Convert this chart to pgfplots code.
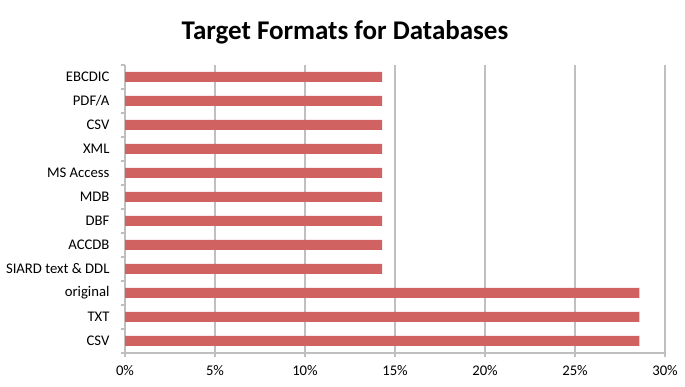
\documentclass[border=0pt]{standalone}
\usepackage{fontspec}
\setmainfont{Carlito}
\usepackage{pgfplots}
\pgfplotsset{compat=1.18}
\definecolor{barred}{RGB}{208,98,98}
\definecolor{gridgray}{RGB}{191,191,191}
\begin{document}
\begin{tikzpicture}
\path[use as bounding box] (0,0) rectangle (685pt,387pt);
\node[font=\fontsize{27}{30}\selectfont\bfseries] at (345pt,355pt) {Target Formats for Databases};
\begin{axis}[
  at={(125pt,34pt)}, anchor=south west,
  width=540pt, height=288pt, scale only axis,
  xbar, bar width=10pt,
  xmin=0, xmax=30, ymin=-0.5, ymax=11.5,
  xtick={0,5,...,30},
  xticklabels={0\%,5\%,10\%,15\%,20\%,25\%,30\%},
  ytick={0,...,11},
  yticklabels={CSV,TXT,original,SIARD text \& DDL,ACCDB,DBF,MDB,MS Access,XML,CSV,PDF/A,EBCDIC},
  minor ytick={-0.5,0.5,...,11.5},
  axis lines*=left,
  axis line style={gridgray, line width=1.6pt},
  xmajorgrids, major grid style={gridgray, line width=1.6pt},
  tick align=outside,
  x tick style={gridgray, line width=1.6pt},
  major tick length=4pt,
  y tick style={draw=none},
  minor y tick style={draw=gridgray, line width=1.6pt},
  minor tick length=4pt,
  ticklabel style={font=\fontsize{14.7}{16}\selectfont},
  yticklabel style={xshift=-8pt},
  xticklabel style={yshift=-5pt},
  /pgf/number format/assume math mode=true,
]
\addplot[fill=barred, draw=none] coordinates {
(28.5714,0) (28.5714,1) (28.5714,2) (14.2857,3) (14.2857,4) (14.2857,5)
(14.2857,6) (14.2857,7) (14.2857,8) (14.2857,9) (14.2857,10) (14.2857,11)};
\end{axis}
\end{tikzpicture}
\end{document}
